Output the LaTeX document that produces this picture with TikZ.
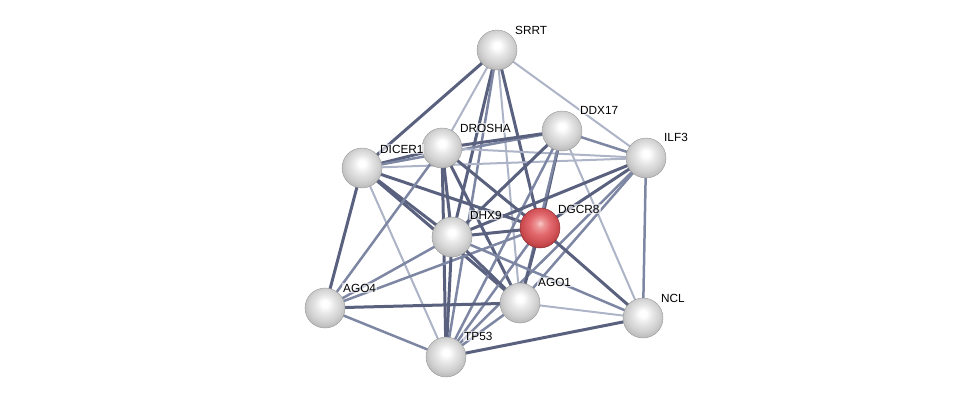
\documentclass[tikz,border=0pt]{standalone}
\usepackage{fontspec}
\setmainfont{Liberation Sans}
\usetikzlibrary{backgrounds,calc}
\definecolor{edgeA}{HTML}{59617F}
\definecolor{edgeB}{HTML}{7D86A2}
\definecolor{edgeC}{HTML}{AEB4C7}
\definecolor{gA}{HTML}{FFFFFF}
\definecolor{gB}{HTML}{E6E6E6}
\definecolor{gC}{HTML}{D2D2D2}
\definecolor{gD}{HTML}{BBBBBB}
\definecolor{gE}{HTML}{8E8E8E}
\definecolor{rA}{HTML}{F8CACA}
\definecolor{rB}{HTML}{EE9898}
\definecolor{rC}{HTML}{E2696E}
\definecolor{rD}{HTML}{C8484C}
\definecolor{rE}{HTML}{8E2A2E}
\pgfdeclareradialshading{strgray}{\pgfpoint{0bp}{6bp}}{color(0bp)=(gA); color(4bp)=(gA); color(12bp)=(gB); color(20bp)=(gC); color(27bp)=(gD); color(32bp)=(gE); color(50bp)=(gE)}
\pgfdeclareradialshading{strred}{\pgfpoint{0bp}{6bp}}{color(0bp)=(rA); color(5bp)=(rB); color(13bp)=(rC); color(24bp)=(rD); color(32bp)=(rE); color(50bp)=(rE)}
\tikzset{
  ball/.style={circle, minimum size=40pt, inner sep=0pt, shading=strgray, draw=gray!80, line width=0.4pt},
  redball/.style={ball, shading=strred, draw=rE},
  lbl/.style={anchor=base west, inner sep=1pt, fill=white, fill opacity=0.6, text opacity=1, font=\fontsize{11.8}{13}\selectfont, text=black},
  eA/.style={draw=edgeA, line width=3pt},
  eB/.style={draw=edgeB, line width=2.5pt},
  eC/.style={draw=edgeC, line width=2pt}
}
\begin{document}
\begin{tikzpicture}[x=1pt,y=-1pt]
\useasboundingbox (0,0) rectangle (975,402);
\node[ball] (SRRT) at (497,50) {};
\node[ball] (DDX17) at (562,131) {};
\node[ball] (DROSHA) at (442,148) {};
\node[ball] (DICER1) at (362,168) {};
\node[ball] (ILF3) at (646,158) {};
\node[redball] (DGCR8) at (540,228) {};
\node[ball] (DHX9) at (452,237) {};
\node[ball] (AGO1) at (520,303) {};
\node[ball] (AGO4) at (325,308) {};
\node[ball] (NCL) at (643,318) {};
\node[ball] (TP53) at (446,357) {};
\node[lbl] (lSRRT) at ($(SRRT)+(17,-16)$) {SRRT};
\node[lbl] (lDDX17) at ($(DDX17)+(17,-17)$) {DDX17};
\node[lbl] (lDROSHA) at ($(DROSHA)+(17,-16)$) {DROSHA};
\node[lbl] (lDICER1) at ($(DICER1)+(17,-15)$) {DICER1};
\node[lbl] (lILF3) at ($(ILF3)+(17,-17)$) {ILF3};
\node[lbl] (lDGCR8) at ($(DGCR8)+(17,-15)$) {DGCR8};
\node[lbl] (lDHX9) at ($(DHX9)+(17,-18)$) {DHX9};
\node[lbl] (lAGO1) at ($(AGO1)+(17,-17)$) {AGO1};
\node[lbl] (lAGO4) at ($(AGO4)+(17,-16)$) {AGO4};
\node[lbl] (lNCL) at ($(NCL)+(17,-16)$) {NCL};
\node[lbl] (lTP53) at ($(TP53)+(17,-17)$) {TP53};
\begin{pgfonlayer}{background}
% SRRT
\path[eA] (SRRT.center) -- (DICER1.center);
\path[eC] (SRRT.center) -- (DROSHA.center);
\path[eA] (SRRT.center) -- (DHX9.center);
\path[eB] (SRRT.center) -- (TP53.center);
\path[eC] (SRRT.center) -- (AGO1.center);
\path[eA] (SRRT.center) -- (DGCR8.center);
\path[eC] (SRRT.center) -- (ILF3.center);
% DICER1
\path[eA] (DICER1.center) -- (DROSHA.center);
\path[eB] (DICER1.center) -- (DDX17.center);
\path[eC] (DICER1.center) -- (ILF3.center);
\path[eA] (DICER1.center) -- (AGO4.center);
\path[eC] (DICER1.center) -- (TP53.center);
\path[eA] (DICER1.center) -- (DHX9.center);
\path[eA] (DICER1.center) -- (AGO1.center);
\path[eA] (DICER1.center) -- (DGCR8.center);
% DROSHA
\path[eA] (DROSHA.center) -- (DDX17.center);
\path[eC] (DROSHA.center) -- (ILF3.center);
\path[eA] (DROSHA.center) -- (DHX9.center);
\path[eA] (DROSHA.center) -- (AGO1.center);
\path[eA] (DROSHA.center) -- (DGCR8.center);
\path[eA] (DROSHA.center) -- (TP53.center);
\path[eB] (DROSHA.center) -- (AGO4.center);
% DDX17
\path[eB] (DDX17.center) -- (ILF3.center);
\path[eA] (DDX17.center) -- (DGCR8.center);
\path[eA] (DDX17.center) -- (DHX9.center);
\path[eB] (DDX17.center) -- (AGO1.center);
\path[eC] (DDX17.center) -- (NCL.center);
\path[eB] (DDX17.center) -- (TP53.center);
% ILF3
\path[eA] (ILF3.center) -- (DGCR8.center);
\path[eA] (ILF3.center) -- (DHX9.center);
\path[eB] (ILF3.center) -- (AGO1.center);
\path[eB] (ILF3.center) -- (NCL.center);
\path[eB] (ILF3.center) -- (TP53.center);
% DGCR8
\path[eA] (DGCR8.center) -- (DHX9.center);
\path[eA] (DGCR8.center) -- (AGO1.center);
\path[eB] (DGCR8.center) -- (AGO4.center);
\path[eB] (DGCR8.center) -- (TP53.center);
\path[eA] (DGCR8.center) -- (NCL.center);
% DHX9
\path[eA] (DHX9.center) -- (AGO1.center);
\path[eB] (DHX9.center) -- (AGO4.center);
\path[eA] (DHX9.center) -- (TP53.center);
\path[eB] (DHX9.center) -- (NCL.center);
% AGO1
\path[eA] (AGO1.center) -- (AGO4.center);
\path[eB] (AGO1.center) -- (TP53.center);
\path[eC] (AGO1.center) -- (NCL.center);
% AGO4, TP53
\path[eB] (AGO4.center) -- (TP53.center);
\path[eA] (TP53.center) -- (NCL.center);
\end{pgfonlayer}
\end{tikzpicture}
\end{document}
